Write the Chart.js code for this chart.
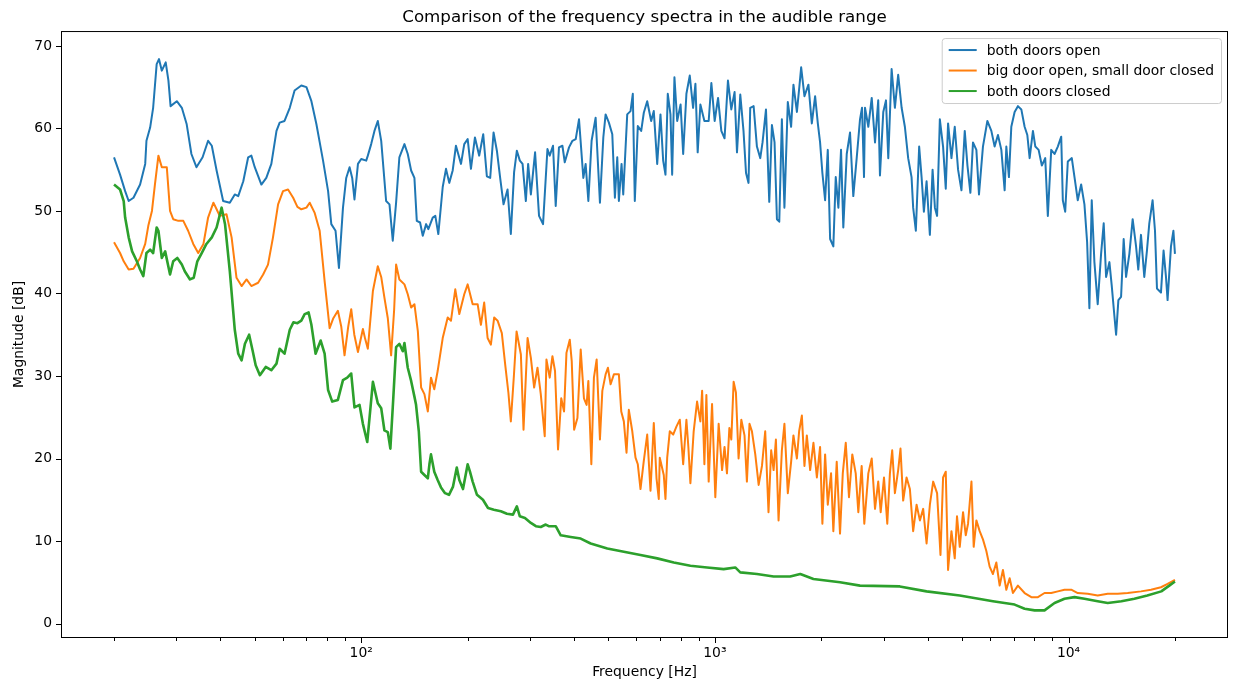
<!DOCTYPE html>
<html>
<head>
<meta charset="utf-8">
<title>Comparison of the frequency spectra</title>
<script src="https://cdn.jsdelivr.net/npm/chart.js@4.4.0/dist/chart.umd.min.js"></script>
<style>
  html, body { margin: 0; padding: 0; background: #fff; }
  #wrap { width: 1236px; height: 682px; }
</style>
</head>
<body>
<div id="wrap"><canvas id="spectrum" width="1236" height="682"></canvas></div>
<script>
// ---- data (frequency in Hz, magnitude in dB) ----
const seriesNames = ['both doors open', 'big door open, small door closed', 'both doors closed'];

const openFreq = [20,20.8,21.5,22.0,22.7,23.7,24.5,24.7,25.3,25.8,26.4,26.8,27.3,28.0,28.5,28.9,30.1,31.1,32.1,33.1,34.2,35.6,36.9,37.8,39.0,40.7,42.5,43.9,44.9,46.4,47.9,48.9,50.0,52.2,53.9,55.7,57.6,58.8,60.7,62.8,64.8,67.7,70.0,72.3,74.7,78.0,80.6,82.3,84.6,86.5,88.8,90.7,92.7,94.3,95.7,97.9,100,103.3,104.4,106.7,109.0,111.4,113.9,117.6,120.2,122.8,125.5,128.2,132.5,135.4,138.4,141.4,143.6,146.7,149.3,152.6,154.8,159.3,162.0,165.2,170,173.7,177.4,181.4,185.3,191.5,195.6,200,204.3,209.7,215.6,221.3,226.6,231.6,236.7,241.9,247.1,252.6,259.3,264.9,270.6,275.5,280.9,285.9,292.1,296.5,301.8,310.2,318.3,326.7,336.2,341.2,348.6,354.8,362.4,370.6,376.3,386.9,395.6,404.2,412.9,424.7,431.1,438.8,448.2,460.1,473.2,483.7,491.0,501.6,512.8,521.6,529.7,535.3,544.7,550.7,565.2,577.5,586.1,593.8,605.5,619.0,629.6,643.7,660.6,671.9,687.0,701.8,714.2,725.0,736.0,749.0,757.3,768.6,782.5,800,813.6,830.9,849.2,867.8,881.1,894.2,910.0,934.1,960.6,977.5,998.7,1021,1043,1065,1089,1113,1137,1155,1180,1205,1225,1245,1259,1287,1315,1344,1364,1395,1425,1450,1475,1498,1521,1547,1573,1608,1643,1668,1706,1734,1754,1792,1839,1880,1921,1955,1984,2014,2050,2086,2118,2163,2197,2235,2274,2308,2360,2411,2463,2518,2573,2607,2641,2658,2716,2777,2837,2897,2930,2994,3047,3093,3161,3229,3299,3374,3446,3521,3599,3637,3701,3782,3842,3900,3969,4055,4127,4190,4250,4327,4419,4497,4565,4667,4768,4872,4981,5089,5179,5279,5369,5489,5583,5729,5896,6051,6182,6317,6458,6598,6671,6785,6891,7041,7193,7355,7515,7648,7764,7933,8057,8232,8407,8594,8741,8936,9130,9328,9537,9637,9788,9955,10217,10398,10620,10858,11093,11289,11457,11633,11837,12094,12363,12576,12774,13051,13247,13481,13633,13837,14082,14322,14547,14864,15186,15525,15752,16031,16379,16666,16923,17290,17562,17790,18259,18571,18865,19062,19488,19800,20000];
const openDb = [56.5,54.4,52.4,51.2,51.6,53.2,55.7,58.5,60.1,62.5,67.8,68.4,67.0,68.0,65.8,62.7,63.3,62.5,60.5,56.9,55.3,56.5,58.5,57.9,54.9,51.2,51.0,52.0,51.8,53.6,56.5,56.7,55.3,53.2,54.0,55.7,59.7,60.7,60.9,62.5,64.6,65.2,65.0,63.3,60.5,56.1,52.4,48.4,47.6,43.1,50.4,54.0,55.3,54.0,51.4,55.7,56.3,56.1,56.7,58.1,59.7,60.9,58.5,51.2,50.8,46.4,51.0,56.5,58.1,56.9,54.9,54.0,48.8,48.6,47.0,48.4,47.8,49.2,49.4,47.2,52.9,55.1,53.4,54.9,57.9,55.7,58.1,58.7,55.1,58.9,56.7,59.3,54.2,54.0,59.5,57.3,54.0,50.8,52.6,47.2,54.7,57.3,56.1,55.7,51.2,55.7,52.0,57.1,49.4,48.4,57.5,56.7,57.9,50.6,57.7,57.9,55.9,57.7,58.5,58.7,61.1,54.0,55.7,51.2,58.5,61.3,51.0,58.9,61.7,60.7,59.3,51.6,56.5,51.2,55.7,52.0,61.7,62.1,64.2,51.2,60.3,59.7,61.9,63.3,60.9,62.1,55.7,61.7,56.1,54.4,64.2,61.7,54.4,66.2,60.9,62.9,56.9,64.2,66.4,62.5,65.4,57.1,62.9,60.9,60.9,65.5,60.9,63.7,59.7,58.8,65.8,62.3,64.4,57.1,64.1,59.7,54.6,53.4,62.5,62.7,57.8,56.4,58.3,62.3,51.1,60.4,58.3,49.0,48.7,61.1,50.4,63.2,60.2,65.3,62.0,65.1,67.4,63.9,65.3,60.6,63.9,60.6,58.3,54.6,51.3,57.4,46.6,45.7,54.1,50.4,57.4,48.0,56.9,59.5,51.8,56.4,61.1,62.5,54.1,62.5,60.2,63.7,58.3,63.4,54.3,62.0,63.4,56.4,67.2,62.5,66.5,62.5,60.2,56.4,54.1,50.4,47.6,57.8,54.1,49.9,53.6,47.1,55.0,50.4,49.4,61.1,57.8,52.7,60.6,56.4,60.2,55.0,52.5,59.7,55.5,52.2,58.3,57.4,52.0,57.8,60.9,59.7,57.8,59.2,57.4,52.5,57.8,54.1,60.2,62.0,62.7,62.3,60.2,59.2,56.4,59.7,57.8,57.4,55.5,56.4,49.4,57.4,56.9,57.8,59.0,51.3,49.9,56.0,56.4,54.1,51.3,53.2,50.8,46.2,38.2,51.3,43.8,38.7,44.8,48.5,42.0,43.8,41.0,37.3,35.0,39.2,39.6,46.6,42.0,44.8,49.0,45.7,42.9,47.1,42.0,45.2,48.5,51.3,47.6,40.6,40.1,45.2,42.0,39.2,45.7,47.6,44.8];

const halfFreq = [20,20.8,21.3,22.0,22.7,23.7,24.5,25.0,25.6,26.1,26.7,27.3,28.2,28.8,29.4,30.4,31.4,32.4,33.5,34.6,35.8,36.9,38.2,39.0,39.8,41.6,43.0,44.4,45.9,47.4,48.9,51.1,52.8,54.5,56.3,58.2,60.1,62.1,64.2,66.0,67.7,70.0,71.5,73.8,76.3,78.8,81.4,83.4,85.9,87.8,89.7,91.9,93.7,95.6,97.9,101.1,102.6,104.4,107.9,111.4,113.9,116.3,118.9,121.5,123.9,125.5,128.2,132.5,135.4,138.4,141.4,144.6,147.7,150.9,154.3,157.5,160.9,164.5,170,175.6,179.4,184.5,189.4,195.6,200,206.6,213.4,218.0,222.7,227.7,232.6,237.7,243.0,249.8,255.3,260.7,264.9,270.2,275.0,282.8,287.7,295.4,301.8,308.3,315.1,321.9,330.3,334.0,341.2,347.3,353.2,360.2,367.8,374.6,380.5,388.8,393.8,400,408.7,417.5,426.4,433.9,438.8,447.4,455.0,463.2,473.2,480.6,491.0,498.4,507.2,518.2,535.3,543.6,552.9,562.6,571.1,584.1,596.5,605.5,616.2,629.6,643.7,657.7,671.9,683.9,694.1,698.6,717.0,725.0,733.2,745.6,762.3,779.0,795.9,813.6,830.9,841.8,852.8,871.2,890.7,910.0,920.4,934.1,946.3,960.6,981.9,1003,1025,1048,1065,1082,1099,1113,1130,1147,1167,1188,1213,1232,1253,1273,1301,1330,1359,1388,1418,1443,1466,1488,1514,1547,1573,1608,1643,1668,1706,1731,1762,1792,1820,1860,1900,1943,1984,2014,2050,2086,2131,2163,2211,2259,2300,2345,2395,2447,2502,2545,2601,2646,2716,2777,2837,2897,2944,3008,3073,3126,3173,3229,3299,3349,3408,3484,3560,3637,3719,3800,3882,3969,4055,4143,4250,4345,4419,4497,4565,4667,4768,4839,4926,5033,5122,5199,5316,5394,5489,5608,5729,5857,5984,6114,6250,6388,6525,6671,6817,6964,7193,7515,7851,8195,8555,8936,9328,9743,10177,10623,11333,12094,12907,13776,14700,16031,17111,18259,19062,20000];
const halfDb = [46.2,44.9,43.9,42.9,43.0,44.3,46.0,48.2,50.0,53.2,56.7,55.3,55.3,50.0,49.0,48.8,48.8,47.6,46.0,44.9,46.0,49.2,51.0,50.2,49.4,49.6,46.8,41.9,40.9,41.7,40.9,41.3,42.3,43.5,46.8,50.8,52.4,52.6,51.6,50.5,50.2,50.4,51.0,49.8,47.6,41.5,35.8,37.0,37.9,36.0,32.5,36.0,38.1,35.0,32.9,35.7,34.5,33.3,40.3,43.3,42.0,39.5,37.0,32.5,38.0,43.5,41.7,41.1,39.9,38.3,38.7,35.4,28.6,27.8,25.7,29.8,28.4,30.6,34.6,37.1,36.7,40.5,37.5,39.9,41.1,38.7,38.7,36.2,38.9,34.6,33.8,37.1,36.7,35.2,31.4,28.0,24.5,30.0,35.4,32.6,23.5,34.6,32.2,28.6,31.0,27.8,22.7,32.0,29.8,32.4,30.6,21.1,27.3,25.7,32.8,34.4,31.8,23.5,24.9,33.2,27.3,26.5,29.4,19.3,29.8,32.0,22.3,28.2,30.2,31.0,29.0,30.2,30.2,25.7,24.5,20.7,25.9,23.3,20.1,19.3,16.3,19.7,22.9,16.1,24.3,17.6,15.1,20.1,18.0,15.1,20.1,23.3,22.9,23.9,24.7,19.3,24.7,21.3,17.0,23.3,26.9,24.5,28.2,19.3,27.7,17.2,26.6,15.3,24.2,18.6,21.4,18.2,23.7,22.3,29.3,28.0,20.0,24.7,22.8,17.2,24.2,23.3,20.5,16.8,19.1,23.3,13.5,21.0,18.6,22.3,12.5,21.0,24.2,15.8,19.6,22.8,20.0,23.3,25.2,19.1,22.8,18.6,21.9,17.7,21.4,12.1,20.5,14.4,18.2,11.2,19.6,10.9,18.2,21.9,15.3,20.5,18.2,13.5,19.1,12.1,18.2,20.0,13.9,17.2,13.5,17.7,12.1,18.2,21.0,15.8,18.6,21.2,14.9,17.7,16.3,11.2,14.4,12.5,13.9,9.7,14.4,17.2,15.8,8.3,17.7,18.4,6.5,11.2,7.9,13.0,9.3,13.5,10.7,12.1,17.2,9.3,12.5,11.2,10.2,8.8,6.9,6.0,7.4,4.6,6.5,4.1,5.5,3.7,4.6,3.7,3.2,3.2,3.7,3.7,3.9,4.1,4.1,3.7,3.6,3.4,3.6,3.6,3.7,3.9,4.1,4.4,4.8,5.3];

const closedFreq = [20,20.8,21.3,21.5,22.0,22.5,23.2,23.7,24.2,24.7,25.3,25.8,26.4,26.7,27.3,27.9,28.8,29.4,30.2,31.1,31.7,32.8,33.6,34.4,35.4,36.5,37.8,39.0,40.3,41.2,42.5,43.9,44.9,45.9,46.9,48.2,49.3,50.3,51.7,53.7,55.7,57.6,58.8,60.7,62.8,64.3,66.0,67.7,69.2,71.0,72.3,74.3,76.8,78.8,80.6,82.8,85.9,88.8,91.3,93.7,95.7,98.9,101.1,104.0,107.9,111.4,113.9,116.3,118.9,120.9,123.1,125.5,128.2,131.1,132.5,135.4,138.4,141.4,142.9,145.5,147.7,150.9,154.3,155.9,157.5,160.9,164.5,168.1,172.6,177.1,181.8,186.3,189.4,194.0,200,203.0,206.6,212.5,220.9,228.3,237.2,248.2,258.2,268.6,275.5,280.9,290.4,301.8,311.8,321.9,332.5,339.0,354.8,366.6,391.2,417.5,445.4,496.5,552.9,616.2,687.0,765.3,852.8,950.6,1059,1142,1180,1315,1466,1633,1744,1900,2259,2573,3333,3969,4926,6114,7041,7515,8021,8555,9130,9743,10398,11093,12094,12907,14110,15355,16704,18296,19272,20000];
const closedDb = [53.2,52.6,51.2,49.2,46.8,45.1,43.9,42.9,42.1,44.9,45.3,44.9,48.0,47.6,44.3,45.1,42.3,43.9,44.3,43.5,42.7,41.7,41.9,43.9,44.9,46.0,46.8,48.0,50.4,48.4,42.7,35.6,32.7,31.9,33.9,35.0,33.1,31.3,30.1,31.1,30.7,31.5,33.3,32.7,35.6,36.5,36.4,36.7,37.5,37.7,36.2,32.7,34.3,32.7,28.3,26.9,27.1,29.5,29.8,30.3,26.2,26.5,24.2,22.0,29.3,26.7,26.1,23.4,23.2,21.2,27.0,33.5,33.9,33.0,34.0,31.0,29.4,27.5,26.5,23.3,18.4,18.0,17.6,19.3,20.5,18.4,17.4,16.5,15.8,15.6,16.6,18.9,17.4,16.3,19.3,18.4,17.2,15.6,15.0,14.0,13.8,13.6,13.3,13.2,14.2,13.0,12.8,12.2,11.8,11.7,12.0,11.8,11.8,10.7,10.5,10.3,9.7,9.1,8.7,8.3,7.9,7.4,7.0,6.8,6.6,6.8,6.2,6.0,5.7,5.7,6.0,5.4,5.0,4.6,4.5,3.9,3.4,2.7,2.3,1.8,1.6,1.6,2.5,3.0,3.2,3.0,2.7,2.5,2.7,3.0,3.4,3.9,4.6,5.1];

const seriesColors = ['#1f77b4', '#ff7f0e', '#2ca02c'];

// axis ticks
const yTicks = [0, 10, 20, 30, 40, 50, 60, 70];
const decadeTicks = [100, 1000, 10000];
const decadeLabels = ['10²', '10³', '10⁴'];
const minorTicks = [20, 30, 40, 50, 60, 70, 80, 90, 200, 300, 400, 500, 600, 700, 800, 900,
  2000, 3000, 4000, 5000, 6000, 7000, 8000, 9000, 20000];

const FONT = "'DejaVu Sans', sans-serif";
const SMALL = 13.9;   // tick labels, axis titles, legend
const BIG = 16.7;     // chart title
Chart.defaults.font.family = FONT;
Chart.defaults.color = '#000';

function toPoints(freq, db) {
    return freq.map((f, i) => ({ x: f, y: db[i] }));
}

const allFreq = [openFreq, halfFreq, closedFreq];
const allDb = [openDb, halfDb, closedDb];

let datasets = [];
for (let i = 0; i < 3; i++) {
    datasets.push({
        label: seriesNames[i],
        data: toPoints(allFreq[i], allDb[i]),
        borderColor: seriesColors[i],
        backgroundColor: seriesColors[i],
        borderWidth: i === 2 ? 2.6 : 2,
        pointRadius: 0,
        tension: 0,
        borderJoinStyle: 'round',
        order: 3 - i  // later series on top, like matplotlib
    });
}

// frame, tick marks and the in-plot legend box
const framePlugin = {
    id: 'frame',
    afterDraw(chart) {
        const ctx = chart.ctx;
        const a = chart.chartArea;
        const xs = chart.scales.x;
        const ys = chart.scales.y;
        ctx.save();
        ctx.strokeStyle = '#000';
        ctx.lineWidth = 1;
        ctx.beginPath();
        xs.ticks.forEach(t => {
            const px = Math.round(xs.getPixelForValue(t.value)) + 0.5;
            const len = decadeTicks.includes(t.value) ? 5 : 3;
            ctx.moveTo(px, a.bottom);
            ctx.lineTo(px, a.bottom + len);
        });
        ys.ticks.forEach(t => {
            const py = Math.round(ys.getPixelForValue(t.value)) + 0.5;
            ctx.moveTo(a.left - 5, py);
            ctx.lineTo(a.left, py);
        });
        ctx.stroke();
        ctx.strokeRect(a.left + 0.5, a.top + 0.5, a.right - a.left - 1, a.bottom - a.top - 1);

        // legend
        ctx.font = SMALL + 'px ' + FONT;
        let textW = 0;
        seriesNames.forEach(n => { textW = Math.max(textW, ctx.measureText(n).width); });
        const boxW = 7 + 28 + 10 + textW + 7;
        const boxH = 65;
        const bx = a.right - 7 - boxW;
        const by = a.top + 7;
        ctx.beginPath();
        ctx.roundRect(bx + 0.5, by + 0.5, boxW, boxH, 3);
        ctx.fillStyle = 'rgba(255,255,255,0.8)';
        ctx.fill();
        ctx.strokeStyle = '#cccccc';
        ctx.stroke();
        ctx.textBaseline = 'middle';
        ctx.textAlign = 'left';
        seriesNames.forEach((n, i) => {
            const cy = by + 12 + i * 20.5;
            ctx.beginPath();
            ctx.strokeStyle = seriesColors[i];
            ctx.lineWidth = 2;
            ctx.moveTo(bx + 7, cy);
            ctx.lineTo(bx + 35, cy);
            ctx.stroke();
            ctx.fillStyle = '#000';
            ctx.fillText(n, bx + 45, cy + 1);
        });
        ctx.restore();
    }
};

let chartCtx = document.querySelector('#spectrum');
let config = {
    type: 'line',
    data: { datasets: datasets },
    options: {
        responsive: false,
        animation: false,
        layout: { padding: { left: 0, right: 8, top: 0, bottom: 0 } },
        plugins: {
            legend: { display: false },
            tooltip: { enabled: false },
            title: {
                display: true,
                fullSize: false,   // centre over the plot area, not the canvas
                text: 'Comparison of the frequency spectra in the audible range',
                color: '#000',
                font: { size: BIG, weight: 'normal', lineHeight: 1.2 },
                padding: { top: 8, bottom: 3 }
            }
        },
        scales: {
            x: {
                type: 'logarithmic',
                min: 14.16,
                max: 28250,
                afterBuildTicks: s => {
                    s.ticks = minorTicks.concat(decadeTicks).sort((p, q) => p - q).map(v => ({ value: v }));
                },
                afterFit: s => { s.height = 44; },
                ticks: {
                    autoSkip: false,
                    maxRotation: 0,
                    minRotation: 0,
                    padding: 2,
                    color: '#000',
                    font: { size: SMALL },
                    callback: (v) => {
                        const k = decadeTicks.indexOf(v);
                        return k >= 0 ? decadeLabels[k] : '';
                    }
                },
                grid: { display: false, drawTicks: true, tickLength: 5 },
                border: { display: false },
                title: {
                    display: true,
                    text: 'Frequency [Hz]',
                    color: '#000',
                    font: { size: SMALL },
                    padding: { top: 0, bottom: 1 }
                }
            },
            y: {
                type: 'linear',
                min: -1.75,
                max: 71.8,
                afterBuildTicks: s => { s.ticks = yTicks.map(v => ({ value: v })); },
                afterFit: s => { s.width = 61; },
                ticks: { padding: 4, color: '#000', font: { size: SMALL } },
                grid: { display: false, drawTicks: true, tickLength: 5 },
                border: { display: false },
                title: {
                    display: true,
                    text: 'Magnitude [dB]',
                    color: '#000',
                    font: { size: SMALL },
                    padding: { top: 11.5, bottom: 0 }
                }
            }
        }
    },
    plugins: [framePlugin]
};
let spectrumChart = new Chart(chartCtx, config);
</script>
</body>
</html>
